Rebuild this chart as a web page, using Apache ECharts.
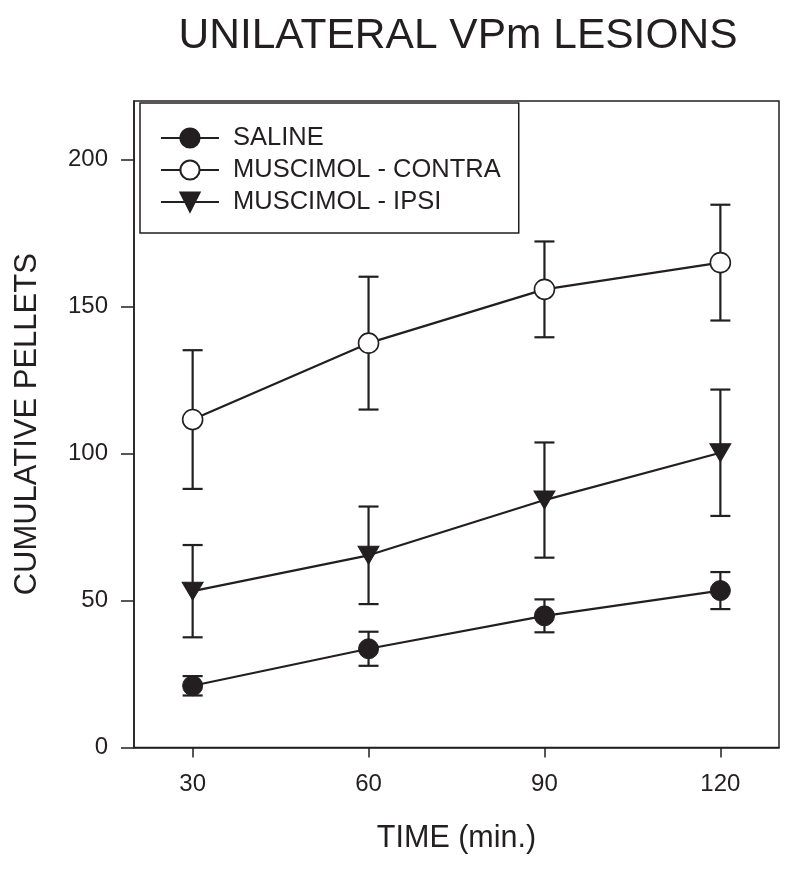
<!DOCTYPE html>
<html>
<head>
<meta charset="utf-8">
<script src="https://cdn.jsdelivr.net/npm/echarts@6/dist/echarts.min.js"></script>
<style>html,body{margin:0;padding:0;background:#fff}#c{width:795px;height:870px}</style>
</head>
<body>
<div id="c"></div>
<script>
const times = [30, 60, 90, 120];
const xTicks = [30, 60, 90, 120];
const yTicks = [0, 50, 100, 150, 200];
const seriesNames = ['SALINE', 'MUSCIMOL - CONTRA', 'MUSCIMOL - IPSI'];
const salineMean = [21.0, 33.6, 44.8, 53.4];
const salineErr = [3.3, 5.8, 5.6, 6.3];
const contraMean = [111.6, 137.6, 155.9, 165.0];
const contraErr = [23.6, 22.6, 16.3, 19.7];
const ipsiMean = [53.2, 65.4, 84.2, 100.3];
const ipsiErr = [15.7, 16.6, 19.6, 21.5];

const INK = '#231f20';
const FONT = '"Liberation Sans", Arial, sans-serif';

function pts(mean) { return times.map((t, i) => [t, mean[i]]); }
function bars(mean, err) { return times.map((t, i) => [t, mean[i] - err[i], mean[i] + err[i]]); }

function errRender(params, api) {
  const x = api.value(0), lo = api.value(1), hi = api.value(2);
  const a = api.coord([x, hi]), b = api.coord([x, lo]);
  const w = 10;
  const st = { stroke: INK, lineWidth: 2.2 };
  return {
    type: 'group',
    children: [
      { type: 'line', shape: { x1: a[0], y1: a[1], x2: b[0], y2: b[1] }, style: st },
      { type: 'line', shape: { x1: a[0] - w, y1: a[1], x2: a[0] + w, y2: a[1] }, style: st },
      { type: 'line', shape: { x1: b[0] - w, y1: b[1], x2: b[0] + w, y2: b[1] }, style: st }
    ]
  };
}

function errSeries(mean, err) {
  return {
    type: 'custom', renderItem: errRender, data: bars(mean, err),
    encode: { x: 0, y: [1, 2] }, z: 1, silent: true
  };
}

const chart = echarts.init(document.getElementById('c'), null, { renderer: 'canvas' });
chart.setOption({
  animation: false,
  backgroundColor: '#fff',
  textStyle: { fontFamily: FONT, color: INK },
  title: {
    text: 'UNILATERAL VPm LESIONS',
    left: 453, top: 10, textAlign: 'center',
    textStyle: { fontFamily: FONT, fontSize: 42.5, fontWeight: 'normal', color: INK }
  },
  grid: {
    left: 134, right: 16, top: 101, bottom: 122.5,
    show: true, borderColor: INK, borderWidth: 1.5, backgroundColor: 'transparent'
  },
  legend: {
    data: seriesNames,
    orient: 'vertical',
    left: 140, top: 103,
    padding: [22, 18, 18, 20],
    itemWidth: 58, itemHeight: 24, itemGap: 6,
    borderColor: INK, borderWidth: 1.5, backgroundColor: '#fff',
    textStyle: { fontFamily: FONT, fontSize: 25.5, color: INK, padding: [0, 0, 0, 9] }
  },
  xAxis: {
    type: 'value', min: 20, max: 130,
    name: 'TIME (min.)', nameLocation: 'middle', nameGap: 76,
    nameTextStyle: { fontFamily: FONT, fontSize: 30.5, color: INK },
    axisLine: { show: true, lineStyle: { color: INK, width: 1.5 } },
    axisTick: { show: true, length: 10, lineStyle: { color: INK, width: 1.5 }, customValues: xTicks },
    axisLabel: { fontFamily: FONT, fontSize: 24, color: INK, margin: 25, customValues: xTicks },
    splitLine: { show: false }
  },
  yAxis: {
    type: 'value', min: 0, max: 220,
    name: 'CUMULATIVE PELLETS', nameLocation: 'middle', nameGap: 91,
    nameTextStyle: { fontFamily: FONT, fontSize: 31, color: INK },
    axisLine: { show: true, lineStyle: { color: INK, width: 1.5 } },
    axisTick: { show: true, length: 13, lineStyle: { color: INK, width: 1.5 }, customValues: yTicks },
    axisLabel: { fontFamily: FONT, fontSize: 24, color: INK, margin: 26, customValues: yTicks },
    splitLine: { show: false }
  },
  series: [
    errSeries(salineMean, salineErr),
    errSeries(contraMean, contraErr),
    errSeries(ipsiMean, ipsiErr),
    {
      name: seriesNames[0], type: 'line', data: pts(salineMean), z: 3,
      symbol: 'circle', symbolSize: 20, showAllSymbol: true,
      lineStyle: { color: INK, width: 2.2 },
      itemStyle: { color: INK, borderColor: INK, borderWidth: 1 }
    },
    {
      name: seriesNames[1], type: 'line', data: pts(contraMean), z: 3,
      symbol: 'circle', symbolSize: 20, showAllSymbol: true,
      lineStyle: { color: INK, width: 2.2 },
      itemStyle: { color: '#fff', borderColor: INK, borderWidth: 1.6 }
    },
    {
      name: seriesNames[2], type: 'line', data: pts(ipsiMean), z: 3,
      symbol: 'triangle', symbolRotate: 180, symbolSize: [21, 18], showAllSymbol: true,
      lineStyle: { color: INK, width: 2.2 },
      itemStyle: { color: INK, borderColor: INK, borderWidth: 1 }
    }
  ]
});
</script>
</body>
</html>
